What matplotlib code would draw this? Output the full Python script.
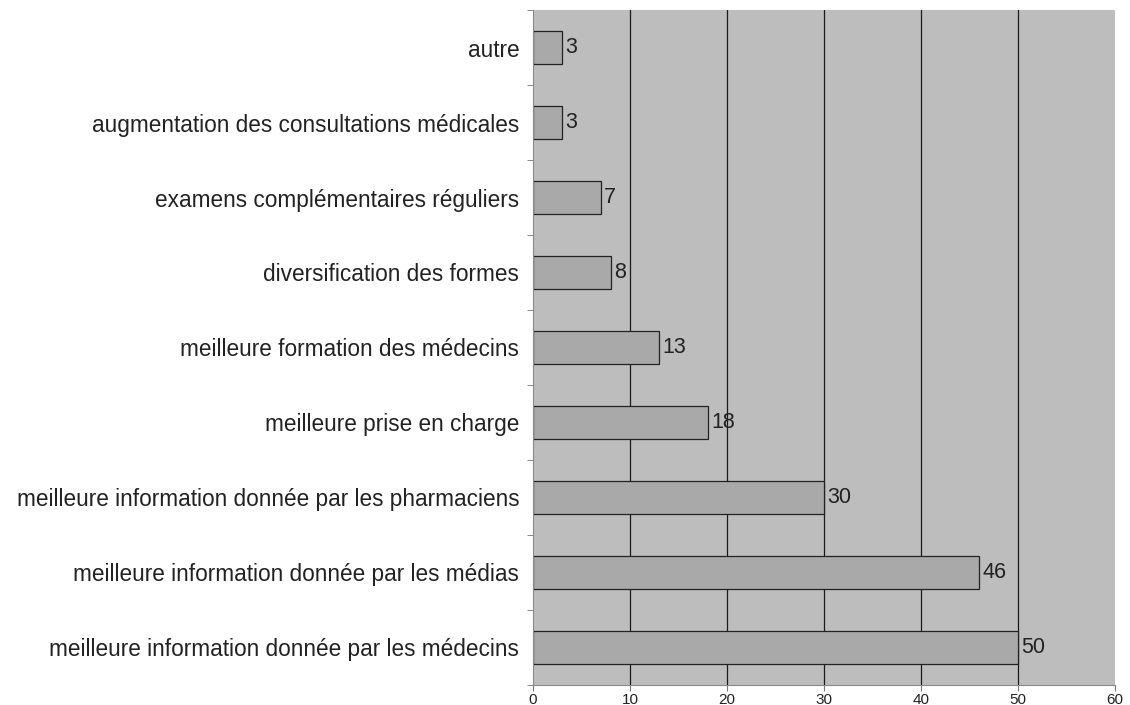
import matplotlib

matplotlib.use('Agg')
import matplotlib.pyplot as plt
import numpy as np

categories = [
    "meilleure information donnée par les médecins",
    "meilleure information donnée par les médias",
    "meilleure information donnée par les pharmaciens",
    "meilleure prise en charge",
    "meilleure formation des médecins",
    "diversification des formes",
    "examens complémentaires réguliers",
    "augmentation des consultations médicales",
    "autre",
]
values = [50, 46, 30, 18, 13, 8, 7, 3, 3]
x_ticks = [0, 10, 20, 30, 40, 50, 60]

plt.rcParams['font.family'] = ['Liberation Sans', 'DejaVu Sans']

fig = plt.figure(figsize=(11.3, 7.05), dpi=100)
ax = fig.add_axes([0.4717, 0.0284, 0.515, 0.9574])
ax.set_facecolor('#bdbdbd')

y = np.arange(len(categories))
ax.set_xlim(0, 60)
ax.set_ylim(-0.5, len(categories) - 0.5)

# vertical gridlines
for xv in x_ticks[1:-1]:
    ax.axvline(xv, color='#1a1a1a', lw=0.9, zorder=1)

bars = ax.barh(y, values, height=0.45, color='#a9a9a9', edgecolor='#222222',
               linewidth=0.9, zorder=2)
for rect, v in zip(bars, values):
    ax.text(rect.get_width() + 0.35, rect.get_y() + rect.get_height() / 2, str(v),
            va='center', ha='left', fontsize=15.5, color='#222222', zorder=3)

ax.set_yticks(y)
ax.set_yticklabels(categories, fontsize=16.3, color='#222222')
ax.tick_params(axis='y', length=0, pad=10)
ax.set_yticks(np.arange(-0.5, len(categories), 1), minor=True)
ax.tick_params(axis='y', which='minor', length=4, color='#777777')

ax.set_xticks(x_ticks)
ax.set_xticklabels([str(t) for t in x_ticks], fontsize=11, color='#222222')
ax.tick_params(axis='x', length=4, color='#777777', pad=1.5)

for side in ['top', 'right']:
    ax.spines[side].set_visible(False)
ax.spines['left'].set_color('#888888')
ax.spines['bottom'].set_color('#888888')

fig.savefig('out.png', dpi=100)
